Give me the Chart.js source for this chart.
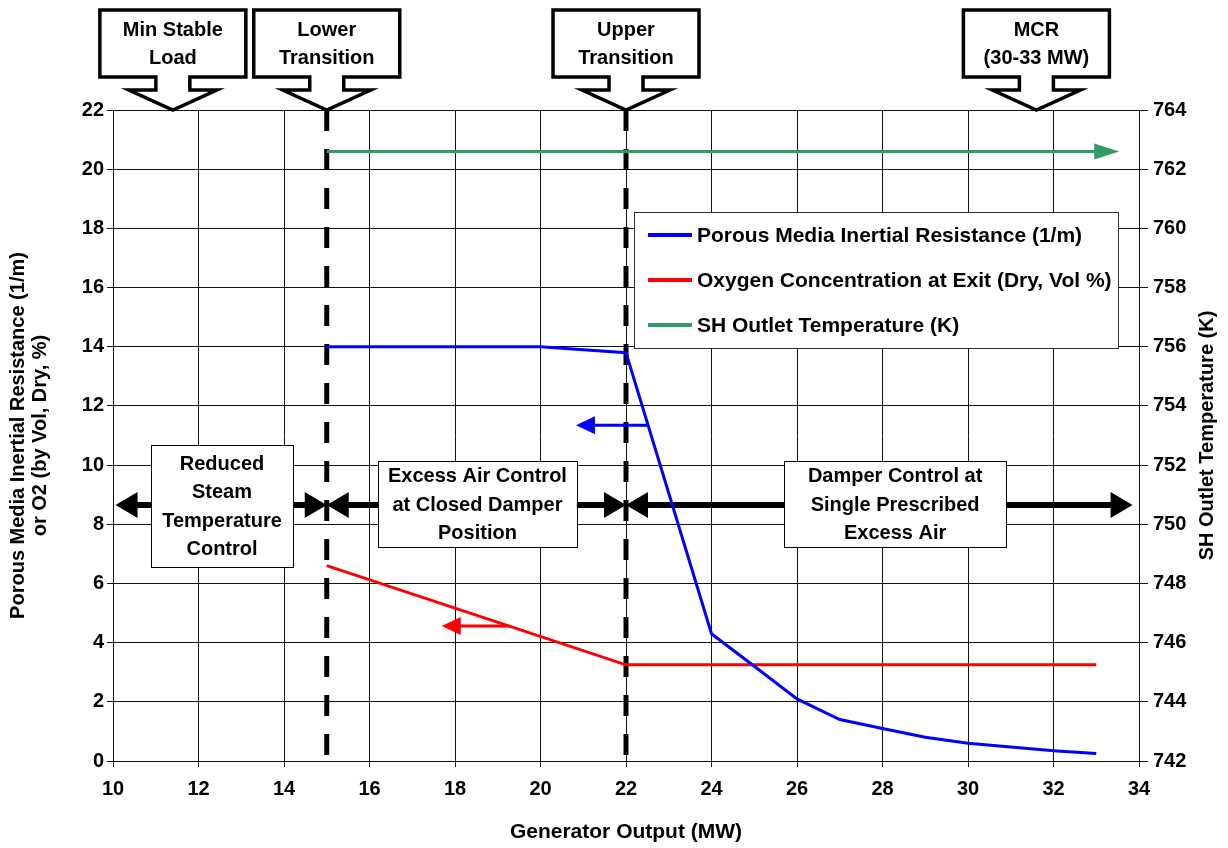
<!DOCTYPE html>
<html>
<head>
<meta charset="utf-8">
<title>Generator Output Control Regions</title>
<script src="https://cdn.jsdelivr.net/npm/chart.js@4.4.1/dist/chart.umd.min.js"></script>
<style>
  html, body { margin: 0; padding: 0; background: #fff; }
  #wrap { width: 1228px; height: 848px; }
</style>
</head>
<body>
<div id="wrap"><canvas id="chart" width="1228" height="848"></canvas></div>
<script>
// Porous media inertial resistance (1/m) against generator output (MW)
const resistanceMW = [15, 16, 17, 18, 19, 20, 21, 22, 24, 25, 26, 27, 28, 29, 30, 31, 32, 33];
const resistance   = [14.0, 14.0, 14.0, 14.0, 14.0, 14.0, 13.9, 13.8, 4.3, 3.2, 2.1, 1.4, 1.1, 0.8, 0.6, 0.47, 0.35, 0.25];

// Exit O2 (dry, vol %)
const oxygenMW = [15, 22, 33];
const oxygen   = [6.6, 3.25, 3.25];

// SH outlet temperature (K), right axis
const shTempMW = [15, 33];
const shTemp   = [762.6, 762.6];

// Lower / upper transition loads (MW)
const transitionMW = [15, 22];

// Axis ranges and tick step
const xRange = [10, 34];
const leftRange = [0, 22];
const rightRange = [742, 764];
const tickStep = 2;

// Callouts above the plot: load they point at + text
const callouts = [
  { mw: 11.4, lines: ['Min Stable', 'Load'] },
  { mw: 15,   lines: ['Lower', 'Transition'] },
  { mw: 22,   lines: ['Upper', 'Transition'] },
  { mw: 31.6, lines: ['MCR', '(30-33 MW)'] }
];

// Operating regions: arrow span (MW), label box span (MW, left-axis units)
const regionLevel = 8.65;
const regions = [
  { from: 10.06, to: 15,    boxX: [10.89, 14.21], boxY: [6.55, 10.68], lines: ['Reduced', 'Steam', 'Temperature', 'Control'] },
  { from: 15,    to: 22,    boxX: [16.2, 20.85],  boxY: [7.23, 10.14], lines: ['Excess Air Control', 'at Closed Damper', 'Position'] },
  { from: 22,    to: 33.85, boxX: [25.7, 30.89],  boxY: [7.23, 10.14], lines: ['Damper Control at', 'Single Prescribed', 'Excess Air'] }
];

// Axis pointers: which axis each curve reads from
const axisPointers = [
  { color: '#0000ff', from: 22.52, to: 20.83, level: 11.35 },
  { color: '#ff0000', from: 19.26, to: 17.69, level: 4.56 }
];

const FONT = '"Liberation Sans", Arial, Helvetica, sans-serif';
Chart.defaults.font.family = FONT;
Chart.defaults.color = '#000';

const toPoints = (xs, ys) => xs.map((x, i) => ({ x, y: ys[i] }));

function head(ctx, tipX, tipY, dir, len, half) {
  ctx.beginPath();
  ctx.moveTo(tipX, tipY);
  ctx.lineTo(tipX - dir * len, tipY - half);
  ctx.lineTo(tipX - dir * len, tipY + half);
  ctx.closePath();
  ctx.fill();
}

function textBox(ctx, x1, y1, x2, y2, lines, lineH) {
  ctx.fillStyle = '#fff';
  ctx.fillRect(x1, y1, x2 - x1, y2 - y1);
  ctx.strokeStyle = '#000';
  ctx.lineWidth = 1;
  ctx.strokeRect(Math.round(x1) + 0.5, Math.round(y1) + 0.5, Math.round(x2 - x1), Math.round(y2 - y1));
  ctx.fillStyle = '#000';
  ctx.font = 'bold 20px ' + FONT;
  ctx.textAlign = 'center';
  ctx.textBaseline = 'middle';
  const cx = (x1 + x2) / 2;
  const cy = (y1 + y2) / 2;
  lines.forEach((t, i) => {
    ctx.fillText(t, cx, cy + 1 + (i - (lines.length - 1) / 2) * lineH);
  });
}

const annotations = {
  id: 'annotations',
  beforeDatasetsDraw(chart) {
    const { ctx, scales: { x, y } } = chart;
    ctx.save();
    // region arrows with their labels
    regions.forEach(r => {
      const x1 = x.getPixelForValue(r.from);
      const x2 = x.getPixelForValue(r.to);
      const yy = y.getPixelForValue(regionLevel);
      ctx.strokeStyle = '#000';
      ctx.fillStyle = '#000';
      ctx.lineWidth = 6;
      ctx.beginPath();
      ctx.moveTo(x1 + 15, yy);
      ctx.lineTo(x2 - 15, yy);
      ctx.stroke();
      head(ctx, x1, yy, -1, 22, 13);
      head(ctx, x2, yy, 1, 22, 13);
      textBox(ctx,
        x.getPixelForValue(r.boxX[0]), y.getPixelForValue(r.boxY[1]),
        x.getPixelForValue(r.boxX[1]), y.getPixelForValue(r.boxY[0]),
        r.lines, 28.5);
    });
    ctx.restore();
  },
  afterDatasetsDraw(chart) {
    const { ctx, scales: { x, y, y1 } } = chart;
    ctx.save();

    // left-pointing axis markers
    axisPointers.forEach(p => {
      const yy = y.getPixelForValue(p.level);
      const xs = x.getPixelForValue(p.from);
      const xe = x.getPixelForValue(p.to);
      ctx.strokeStyle = p.color;
      ctx.fillStyle = p.color;
      ctx.lineWidth = 3;
      ctx.beginPath();
      ctx.moveTo(xs, yy);
      ctx.lineTo(xe + 10, yy);
      ctx.stroke();
      head(ctx, xe, yy, -1, 19, 9);
    });

    // arrowhead on the SH temperature line, pointing to the right axis
    const gx = x.getPixelForValue(shTempMW[shTempMW.length - 1]);
    const gy = y1.getPixelForValue(shTemp[shTemp.length - 1]);
    ctx.fillStyle = '#339966';
    head(ctx, gx + 23, gy, 1, 25, 8);

    // legend
    const lx = 634, ly = 212, lw = 484, lh = 136;
    ctx.fillStyle = '#fff';
    ctx.fillRect(lx, ly, lw, lh);
    ctx.strokeStyle = '#333';
    ctx.lineWidth = 1;
    ctx.strokeRect(lx + 0.5, ly + 0.5, lw, lh);
    ctx.font = 'bold 21px ' + FONT;
    ctx.textAlign = 'left';
    ctx.textBaseline = 'middle';
    chart.data.datasets.filter(d => d.label).forEach((d, i) => {
      const ry = ly + 23 + i * 45;
      ctx.strokeStyle = d.borderColor;
      ctx.lineWidth = 4;
      ctx.beginPath();
      ctx.moveTo(lx + 14, ry);
      ctx.lineTo(lx + 58, ry);
      ctx.stroke();
      ctx.fillStyle = '#000';
      ctx.fillText(d.label, lx + 63, ry + 1);
    });

    // callouts above the plot
    const tipY = chart.chartArea.top;
    callouts.forEach(c => {
      const cx = x.getPixelForValue(c.mw);
      ctx.beginPath();
      ctx.moveTo(cx - 73, 10);
      ctx.lineTo(cx + 73, 10);
      ctx.lineTo(cx + 73, 77);
      ctx.lineTo(cx + 17, 77);
      ctx.lineTo(cx + 17, 90);
      ctx.lineTo(cx + 44, 90);
      ctx.lineTo(cx, tipY);
      ctx.lineTo(cx - 44, 90);
      ctx.lineTo(cx - 17, 90);
      ctx.lineTo(cx - 17, 77);
      ctx.lineTo(cx - 73, 77);
      ctx.closePath();
      ctx.fillStyle = '#fff';
      ctx.fill();
      ctx.strokeStyle = '#000';
      ctx.lineWidth = 3.5;
      ctx.lineJoin = 'miter';
      ctx.stroke();
      ctx.fillStyle = '#000';
      ctx.font = 'bold 20px ' + FONT;
      ctx.textAlign = 'center';
      ctx.textBaseline = 'middle';
      ctx.fillText(c.lines[0], cx, 30);
      ctx.fillText(c.lines[1], cx, 58);
    });

    // right axis title, reading bottom to top
    ctx.save();
    ctx.translate(1207, (chart.chartArea.top + chart.chartArea.bottom) / 2);
    ctx.rotate(-Math.PI / 2);
    ctx.font = 'bold 20px ' + FONT;
    ctx.fillStyle = '#000';
    ctx.textAlign = 'center';
    ctx.textBaseline = 'middle';
    ctx.fillText('SH Outlet Temperature (K)', 0, 0);
    ctx.restore();

    ctx.restore();
  }
};

const tickFont = { size: 20, weight: 'bold' };

new Chart(document.getElementById('chart'), {
  type: 'line',
  data: {
    datasets: [
      {
        label: 'Porous Media Inertial Resistance (1/m)',
        data: toPoints(resistanceMW, resistance),
        borderColor: '#0000ff',
        borderWidth: 3,
        yAxisID: 'y'
      },
      {
        label: 'Oxygen Concentration at Exit (Dry, Vol %)',
        data: toPoints(oxygenMW, oxygen),
        borderColor: '#ff0000',
        borderWidth: 3,
        yAxisID: 'y'
      },
      {
        label: 'SH Outlet Temperature (K)',
        data: toPoints(shTempMW, shTemp),
        borderColor: '#339966',
        borderWidth: 3,
        yAxisID: 'y1'
      },
      // transition markers
      ...transitionMW.map(mw => ({
        data: [{ x: mw, y: leftRange[1] }, { x: mw, y: leftRange[0] }],
        borderColor: '#000',
        borderWidth: 5,
        borderDash: [21, 18],
        borderCapStyle: 'butt',
        yAxisID: 'y'
      }))
    ]
  },
  options: {
    responsive: false,
    animation: false,
    events: [],
    elements: {
      point: { radius: 0 },
      line: { tension: 0, fill: false }
    },
    layout: { padding: { top: 110, left: 0, right: 0, bottom: 0 } },
    plugins: {
      legend: { display: false },
      tooltip: { enabled: false },
      title: { display: false }
    },
    scales: {
      x: {
        type: 'linear',
        min: xRange[0],
        max: xRange[1],
        ticks: { stepSize: tickStep, font: tickFont, padding: 10, maxRotation: 0 },
        grid: { color: '#111', lineWidth: 1, tickLength: 6 },
        border: { color: '#111', width: 1 },
        title: {
          display: true,
          text: 'Generator Output (MW)',
          font: { size: 21, weight: 'bold' },
          padding: { top: 4, bottom: 3 }
        },
        afterFit: s => { s.height = 87; }
      },
      y: {
        position: 'left',
        min: leftRange[0],
        max: leftRange[1],
        ticks: { stepSize: tickStep, font: tickFont, padding: 3 },
        grid: { color: '#111', lineWidth: 1, tickLength: 6 },
        border: { color: '#111', width: 1 },
        title: {
          display: true,
          text: ['Porous Media Inertial Resistance (1/m)', 'or O2 (by Vol, Dry, %)'],
          font: { size: 20, weight: 'bold', lineHeight: '22px' },
          padding: { top: 7, bottom: 0 }
        },
        afterFit: s => { s.width = 113; }
      },
      y1: {
        position: 'right',
        min: rightRange[0],
        max: rightRange[1],
        ticks: { stepSize: tickStep, font: tickFont, padding: 5 },
        grid: { drawOnChartArea: false, color: '#111', lineWidth: 1, tickLength: 9 },
        border: { color: '#111', width: 1 },
        afterFit: s => { s.width = 89; }
      }
    }
  },
  plugins: [annotations]
});
</script>
</body>
</html>
